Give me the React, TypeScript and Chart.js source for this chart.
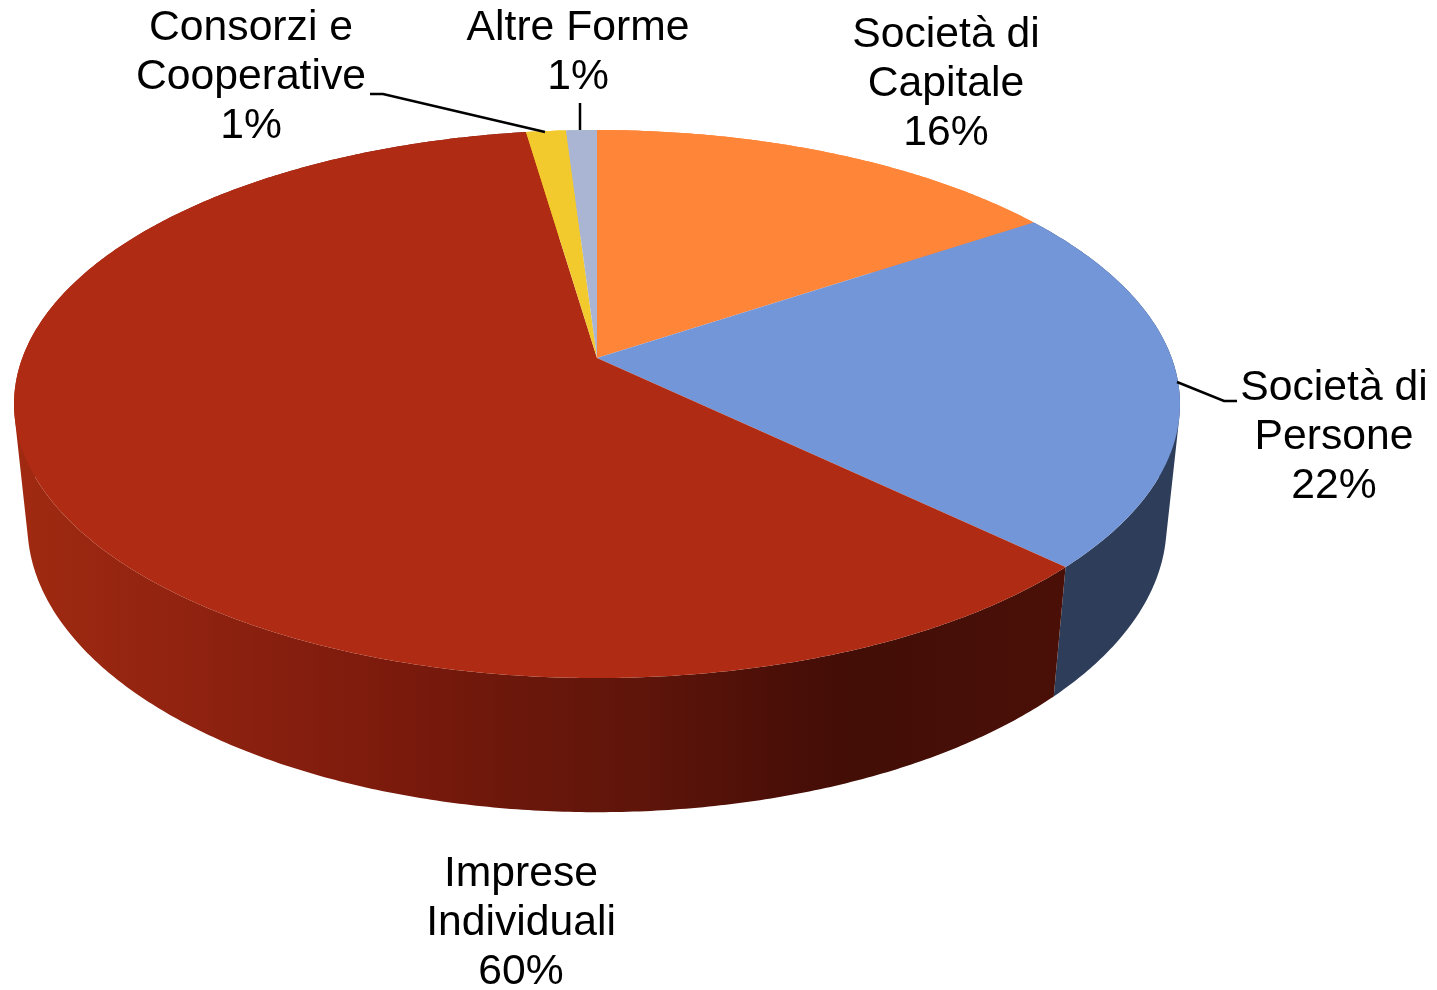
import React, { useEffect, useRef } from "react";
import { Chart, registerables } from "chart.js";

Chart.register(...registerables);

const categories = ["Società di Capitale", "Società di Persone", "Imprese Individuali", "Consorzi e Cooperative", "Altre Forme"];
const values = [15.6, 21.6, 60.5, 1.3, 1.0];
const shownPercent = ["16%", "22%", "60%", "1%", "1%"];
const topColors = ["#ff8538", "#7396d8", "#b02b13", "#f2ca2d", "#a9b5d3"];

const sideStops: [number, string][] = [
  [14, "#a02a11"], [200, "#8f2210"], [400, "#7a1a0c"], [520, "#6b170b"], [640, "#5f150a"], [800, "#480e07"], [860, "#420e06"], [1060, "#4a1008"],
];
const blueSide = "#2e3e5a";

const labelLines = [
  ["Società di", "Capitale"],
  ["Società di", "Persone"],
  ["Imprese", "Individuali"],
  ["Consorzi e", "Cooperative"],
  ["Altre Forme"],
];
const labelAnchors = [
  [946, 35], [1334, 388], [521, 874], [251, 28], [578, 28],
];
const leaderPaths = [
  null,
  [[1177, 382], [1224, 401], [1237, 401]],
  null,
  [[370, 94], [383, 94], [545, 132]],
  [[580, 103], [580, 130]],
];

const FONT_PX = 42.67;
const LINE_GAP = 49;

// perspective of the disc
const K = 0.168;
const BX = 574.7 / 358;
const AY = 266.3 / 358;
const VANISH_Y = 5700;
const DEPTH = 0.02283;

function project(arc: any, angle: number, lowered: boolean) {
  const a = angle + Math.PI / 2;
  const u = Math.sin(a);
  const v = Math.cos(a);
  const w = 1 + K * v;
  const x = arc.x + (arc.outerRadius * BX * u) / w;
  const y = arc.y - (arc.outerRadius * AY * v) / w;
  if (!lowered) return { x, y };
  const d = DEPTH;
  return {
    x: (x * w + d * arc.x) / (w + d),
    y: (y * w + d * VANISH_Y) / (w + d),
  };
}

function arcSteps(arc: any) {
  const n = Math.max(2, Math.ceil((arc.endAngle - arc.startAngle) / (Math.PI / 360)));
  const list: number[] = [];
  for (let i = 0; i <= n; i++) list.push(arc.startAngle + ((arc.endAngle - arc.startAngle) * i) / n);
  return list;
}

const pie3d = {
  id: "pie3d",
  beforeDatasetDraw(chart: any) {
    const ctx = chart.ctx;
    const arcs = chart.getDatasetMeta(0).data;
    ctx.save();
    ctx.lineJoin = "round";

    const redGrad = ctx.createLinearGradient(14, 0, 1060, 0);
    sideStops.forEach(([x, c]) => redGrad.addColorStop((x - 14) / (1060 - 14), c));

    arcs.forEach((arc: any, i: number) => {
      const steps = arcSteps(arc);
      const fill = i === 1 ? blueSide : i === 2 ? redGrad : topColors[i];
      ctx.beginPath();
      for (let s = 0; s < steps.length - 1; s++) {
        let quad = [
          project(arc, steps[s], false),
          project(arc, steps[s + 1], false),
          project(arc, steps[s + 1], true),
          project(arc, steps[s], true),
        ];
        // same winding for all quads, so that overlapping ones never cancel out
        let area = 0;
        quad.forEach((p, j) => {
          const q = quad[(j + 1) % 4];
          area += p.x * q.y - q.x * p.y;
        });
        if (area < 0) quad = quad.reverse();
        quad.forEach((p, j) => (j ? ctx.lineTo(p.x, p.y) : ctx.moveTo(p.x, p.y)));
        ctx.closePath();
      }
      ctx.fillStyle = fill;
      ctx.fill("nonzero");
    });

    arcs.forEach((arc: any, i: number) => {
      ctx.beginPath();
      ctx.moveTo(arc.x, arc.y);
      arcSteps(arc).forEach((t) => {
        const p = project(arc, t, false);
        ctx.lineTo(p.x, p.y);
      });
      ctx.closePath();
      ctx.fillStyle = topColors[i];
      ctx.fill();
    });

    ctx.restore();
    return false;
  },
  afterDraw(chart: any) {
    const ctx = chart.ctx;
    ctx.save();
    ctx.strokeStyle = "#000";
    ctx.lineWidth = 2.5;
    leaderPaths.forEach((path) => {
      if (!path) return;
      ctx.beginPath();
      path.forEach(([x, y], i) => (i ? ctx.lineTo(x, y) : ctx.moveTo(x, y)));
      ctx.stroke();
    });
    ctx.fillStyle = "#000";
    ctx.font = `${FONT_PX}px "Liberation Sans", Arial, sans-serif`;
    ctx.textAlign = "center";
    ctx.textBaseline = "middle";
    labelLines.forEach((lines, i) => {
      const [x, y] = labelAnchors[i];
      [...lines, shownPercent[i]].forEach((t, j) => ctx.fillText(t, x, y + j * LINE_GAP));
    });
    ctx.restore();
  },
};

export default function App() {
  const ref = useRef<HTMLCanvasElement>(null);
  useEffect(() => {
    document.body.style.margin = "0";
    const chart = new Chart(ref.current!, {
      type: "pie",
      data: {
        labels: categories,
        datasets: [{ data: values, backgroundColor: topColors, borderWidth: 0 }],
      },
      options: {
        responsive: false,
        animation: false,
        events: [],
        layout: { padding: { right: 243, bottom: 274 } },
        plugins: { legend: { display: false }, tooltip: { enabled: false }, title: { display: false } },
      },
      plugins: [pie3d],
    } as any);
    return () => chart.destroy();
  }, []);
  return <canvas ref={ref} width={1437} height={990} style={{ display: "block" }} />;
}
